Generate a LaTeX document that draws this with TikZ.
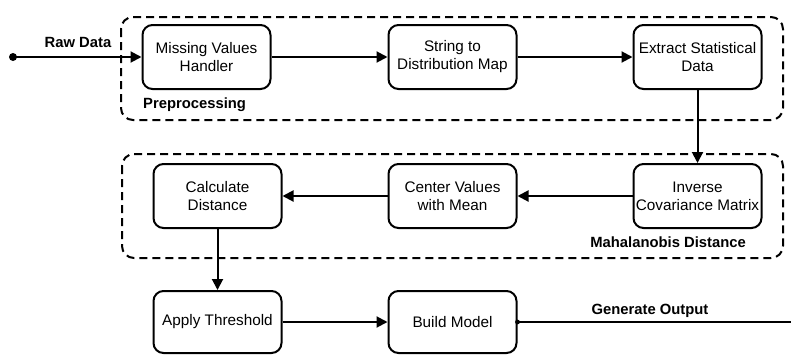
\documentclass[tikz,border=0pt]{standalone}
\usepackage{fontspec}
\setmainfont{Liberation Sans}
\usetikzlibrary{arrows.meta}
\begin{document}
\begin{tikzpicture}[x=1pt,y=-1pt,
  stepbox/.style={draw, line width=2pt, rounded corners=10pt, minimum width=128pt,
    minimum height=64pt, align=center, inner sep=2pt,
    font=\fontsize{15.3}{18}\selectfont},
  group/.style={draw, line width=2pt, dash pattern=on 8pt off 5pt, rounded corners=12pt},
  flow/.style={line width=2pt, -{Triangle[length=11pt,width=11pt]}},
  wire/.style={line width=2pt},
  tag/.style={font=\bfseries\fontsize{14.8}{17.5}\selectfont, inner sep=0pt}]
\useasboundingbox (0,0) rectangle (791,354);

% dashed group frames
\draw[group] (121,17) rectangle (783,120);
\draw[group] (122,154) rectangle (783,258);

% process steps
\node[stepbox] (mvh) at (206.5,57) {Missing Values\\Handler};
\node[stepbox] (sdm) at (452.5,57) {String to\\Distribution Map};
\node[stepbox] (esd) at (697.5,57) {Extract Statistical\\Data};
\node[stepbox] (icm) at (697.5,196) {Inverse\\Covariance Matrix};
\node[stepbox] (cvm) at (452.5,196) {Center Values\\with Mean};
\node[stepbox] (cd)  at (217.5,196) {Calculate\\Distance};
\node[stepbox, minimum height=62pt] (at) at (217.5,322) {Apply Threshold};
\node[stepbox, minimum height=62pt] (bm) at (452.5,322) {Build Model};

% group and edge labels
\node[tag, anchor=west] (pre) at (143,105) {Preprocessing};
\node[tag, anchor=east] (mah) at (746,242) {Mahalanobis Distance};
\node[tag] (raw) at (78,42) {Raw Data};
\node[tag] (gen) at (650,311) {Generate Output};

% input and output ends
\coordinate (src) at (13,57);
\coordinate (out) at (791,322);
\fill (src) circle (4pt);

% connectors
\draw[flow] (src) -- (mvh.west);
\draw[flow] (mvh) -- (sdm);
\draw[flow] (sdm) -- (esd);
\draw[flow] (esd) -- (icm);
\draw[flow] (icm) -- (cvm);
\draw[flow] (cvm) -- (cd);
\draw[flow] (cd) -- (at);
\draw[flow] (at) -- (bm);
\draw[wire] (bm.east) -- (out);
\fill (bm.east) circle (2.4pt);
\end{tikzpicture}
\end{document}
